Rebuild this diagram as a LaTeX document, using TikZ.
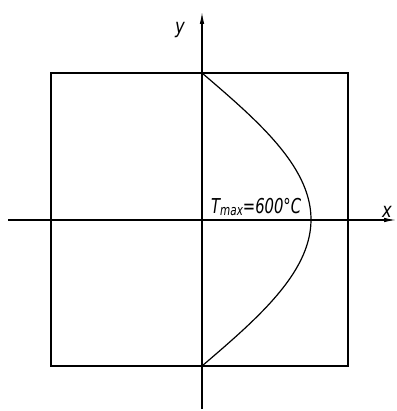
\documentclass[tikz,border=0pt]{standalone}
\usepackage{fontspec}
\newfontfamily\isofont{DejaVu Sans}
\usetikzlibrary{arrows.meta}
\begin{document}
\begin{tikzpicture}[x=1pt,y=-1pt,
  frame/.style={line width=1.7pt},
  axis/.style={line width=1.1pt,-{Latex[length=12pt,width=4.5pt]}},
  curve/.style={line width=1.2pt},
  lbl/.style={inner sep=0pt,font=\fontsize{20.5}{24}\selectfont\isofont\itshape}]
\useasboundingbox (0,0) rectangle (396,411);
% square
\coordinate (tl) at (51,73);
\coordinate (br) at (348,366);
\draw[frame] (tl) rectangle (br);
% axes
\coordinate (xs) at (8,220);
\coordinate (xe) at (396,220);
\coordinate (ys) at (202,409);
\coordinate (ye) at (202,12);
\draw[axis] (xs) -- (xe);
\draw[axis] (ys) -- (ye);
% temperature profile
\coordinate (top) at (202,73);
\coordinate (bot) at (202,366);
\draw[curve] plot[domain=1:-1,samples=80] ({202+109*cos(90*\x)},{219.5-146.5*\x});
% labels
\node[lbl,anchor=base west] (tmax) at (211,213) {\scalebox{0.72}[1]{T\raisebox{-2.5pt}{\fontsize{14.5}{16}\selectfont max}=600°C}};
\node[lbl,anchor=base west] (xl) at (382,217) {\scalebox{0.8}[1]{x}};
\node[lbl,anchor=base west] (yl) at (175,34) {\scalebox{0.8}[1]{y}};
\end{tikzpicture}
\end{document}
